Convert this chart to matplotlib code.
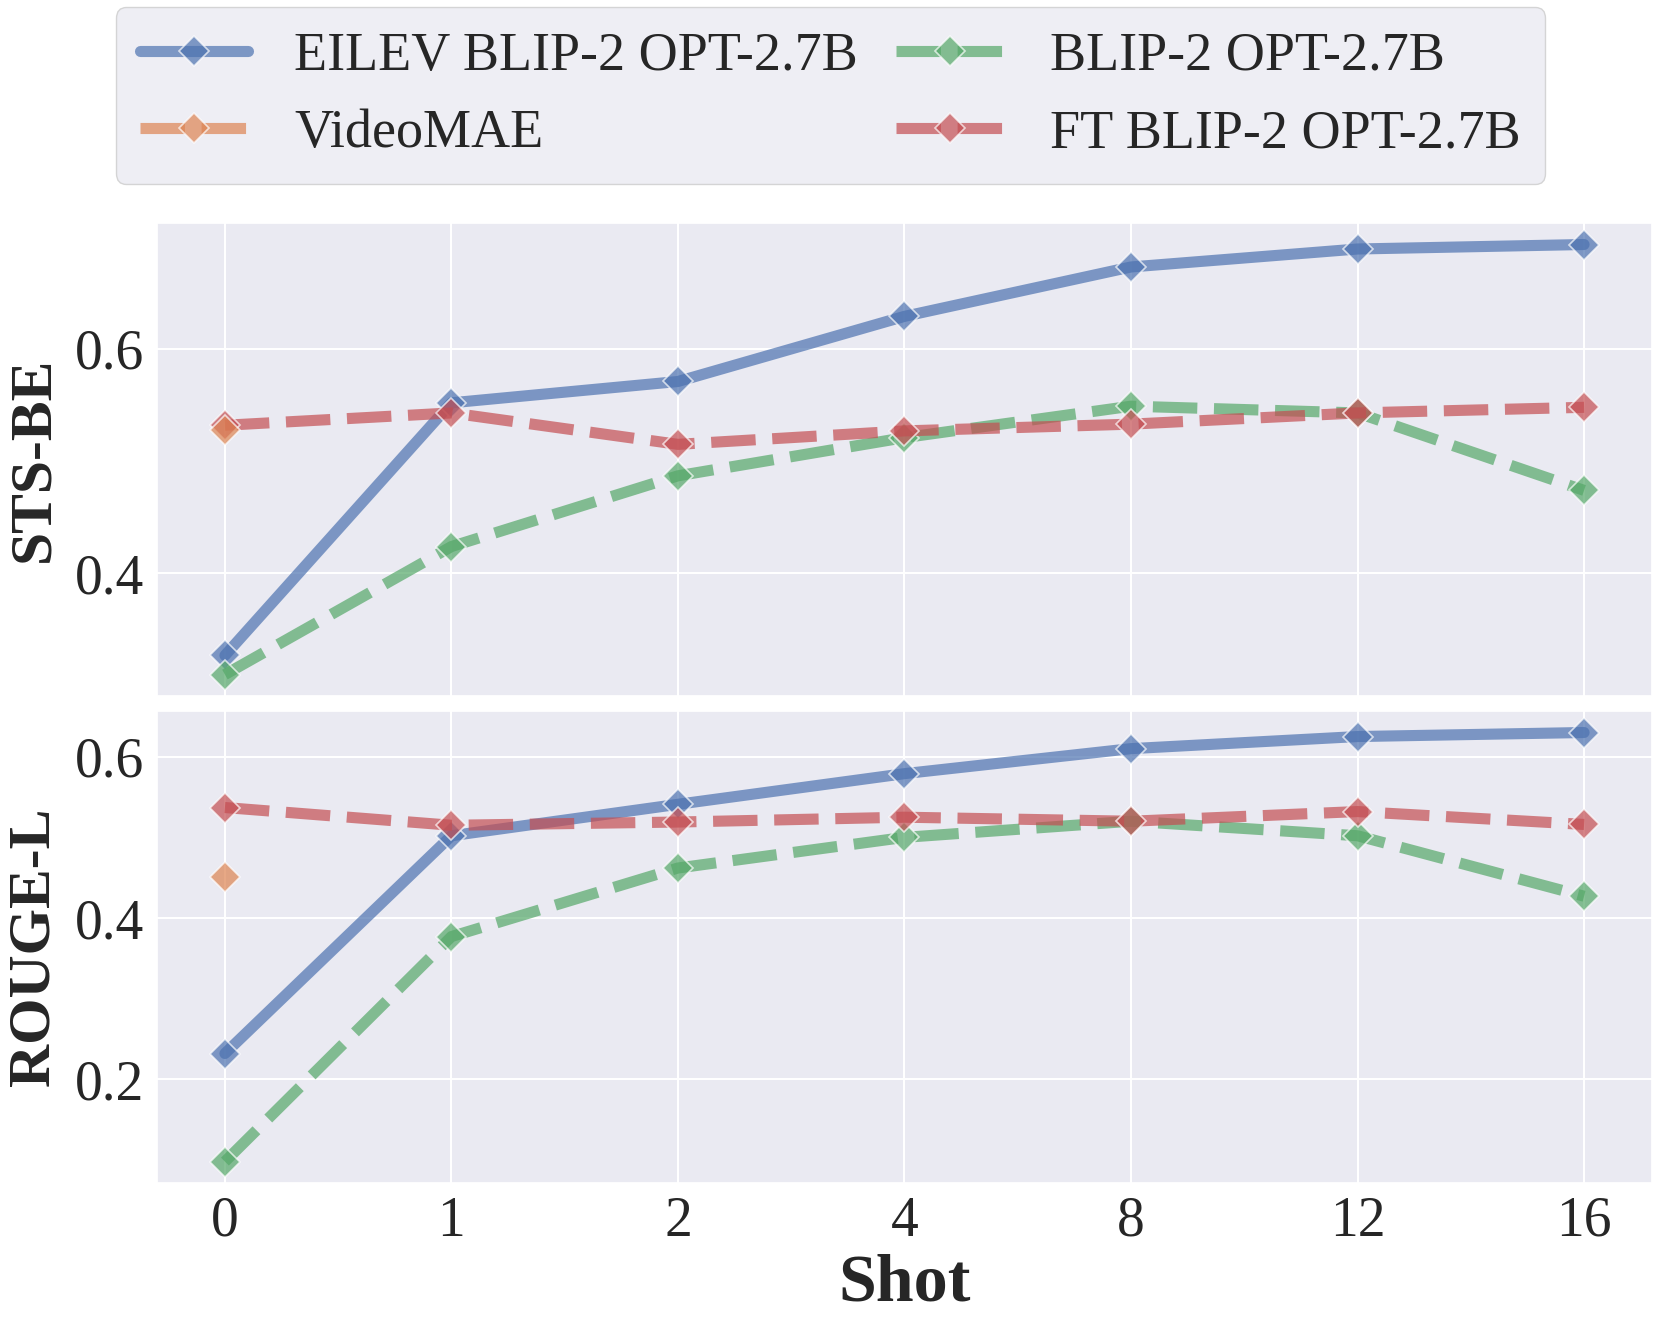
import matplotlib
matplotlib.use("Agg")
import matplotlib.pyplot as plt
import seaborn as sns

shots = ['0', '1', '2', '4', '8', '12', '16']

sts_eilev = [0.327, 0.552, 0.571, 0.629, 0.673, 0.689, 0.693]
sts_blip = [0.310, 0.424, 0.487, 0.521, 0.549, 0.543, 0.474]
sts_ft = [0.532, 0.543, 0.515, 0.527, 0.533, 0.543, 0.548]
sts_videomae = [0.528]

rouge_eilev = [0.232, 0.502, 0.541, 0.579, 0.610, 0.625, 0.630]
rouge_blip = [0.098, 0.377, 0.462, 0.500, 0.520, 0.502, 0.427]
rouge_ft = [0.537, 0.515, 0.519, 0.525, 0.520, 0.532, 0.516]
rouge_videomae = [0.451]

labels = ['EILEV BLIP-2 OPT-2.7B', 'VideoMAE', 'BLIP-2 OPT-2.7B', 'FT BLIP-2 OPT-2.7B']
colors = sns.color_palette('deep')

sns.set_theme(style='darkgrid')
plt.rcParams['font.family'] = ['Liberation Serif', 'DejaVu Serif']

fig = plt.figure(figsize=(16.61, 13.18), dpi=100)
ax1 = fig.add_axes([0.0945, 0.4719, 0.9001, 0.3589])
ax2 = fig.add_axes([0.0945, 0.1024, 0.9001, 0.3581], sharex=ax1)

x = list(range(len(shots)))


def draw(ax, eilev, videomae, blip, ft):
    common = dict(marker='D', markersize=15, markeredgecolor='white',
                  markeredgewidth=1.2, linewidth=8, alpha=0.7)
    h1, = ax.plot(x, eilev, color=colors[0], solid_capstyle='round',
                  label=labels[0], zorder=3, **common)
    h3, = ax.plot(x, blip, color=colors[2], dashes=(4, 1.5),
                  label=labels[2], zorder=4, **common)
    h4, = ax.plot(x, ft, color=colors[3], dashes=(4, 1.5),
                  label=labels[3], zorder=5, **common)
    h2, = ax.plot(x[:len(videomae)], videomae, color=colors[1], dashes=(4, 1.5),
                  label=labels[1], zorder=6, **common)
    ax.grid(True, color='white', linewidth=1.5)
    ax.tick_params(labelsize=40, length=0, pad=9)
    return [h1, h2, h3, h4]


handles = draw(ax1, sts_eilev, sts_videomae, sts_blip, sts_ft)
draw(ax2, rouge_eilev, rouge_videomae, rouge_blip, rouge_ft)

ax1.set_yticks([0.4, 0.6])
ax2.set_yticks([0.2, 0.4, 0.6])
ax2.set_xticks(x)
ax2.set_xticklabels(shots)
plt.setp(ax1.get_xticklabels(), visible=False)

ax1.set_ylabel('STS-BE', fontsize=43, fontweight='bold')
ax2.set_ylabel('ROUGE-L', fontsize=43, fontweight='bold')
ax1.yaxis.set_label_coords(-0.064, 0.5)
ax2.yaxis.set_label_coords(-0.064, 0.5)
ax2.set_xlabel('Shot', fontsize=49, fontweight='bold', labelpad=4)

fig.legend(handles=handles, labels=labels, loc='upper center',
           bbox_to_anchor=(0.5, 0.9947), ncol=2, fontsize=39,
           borderaxespad=0, columnspacing=0.7, handlelength=2.0,
           handletextpad=0.85, labelspacing=0.5, borderpad=0.45)

fig.savefig('out.png', dpi=100)
